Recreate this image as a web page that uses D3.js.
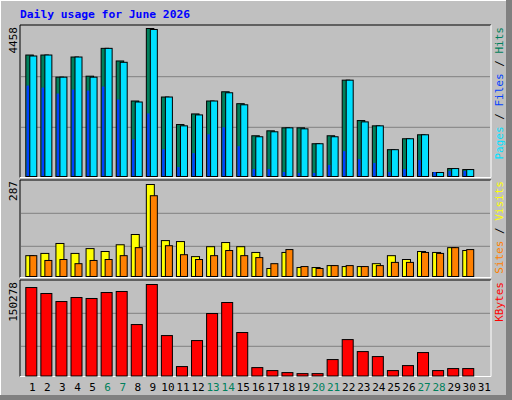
<!DOCTYPE html><html><head><meta charset="utf-8">
<script src="https://cdn.jsdelivr.net/npm/d3@7"></script>
<style>body{margin:0;background:#fff}svg{display:block}</style></head><body>
<svg id="c" width="512" height="400"></svg>
<script>
const days = d3.range(1,32);
const weekend = [6,7,13,14,20,21,27,28];
const hits  = [3659,3659,2992,3599,3022,3860,3480,2274,4458,2394,1565,1885,2274,2552,2193,1227,1376,1466,1466,987,1227,2902,1685,1526,808,1137,1257,120,239,209,0];
const files = [3630,3659,2992,3599,2992,3860,3440,2244,4428,2394,1526,1855,2274,2522,2160,1197,1347,1466,1436,987,1197,2902,1645,1526,808,1137,1257,120,239,209,0];
const pages = [2723,2663,2483,2603,2573,2693,2304,1107,1885,808,269,688,1257,1466,898,209,209,120,90,90,329,748,509,389,120,209,479,120,150,150,0];
const visits= [65,72,103,72,87,78,99,131,287,112,109,62,93,106,93,75,25,75,28,28,34,31,31,40,65,53,78,75,90,81,0];
const sites = [65,50,53,40,50,53,65,90,252,96,68,53,65,81,65,59,40,84,31,25,34,34,31,34,44,44,75,72,90,84,0];
const kbytes= [145300,135500,122300,128900,127300,137100,138800,84500,150278,66400,15500,58200,102600,120700,71400,13800,8900,5600,3900,3900,27000,59800,40100,31900,8900,17100,38500,8900,12200,12200,0];
const maxHits=4458, maxVisits=287, maxKB=150278;

const svg=d3.select("#c");
const F="DejaVu Sans Mono, monospace";
svg.append("rect").attr("width",512).attr("height",400).attr("fill","#c0c0c0");
svg.append("line").attr("x1",0).attr("y1",0.5).attr("x2",512).attr("y2",0.5).attr("stroke","#fff");
svg.append("line").attr("x1",0.5).attr("y1",0).attr("x2",0.5).attr("y2",400).attr("stroke","#fff");
svg.append("rect").attr("x",506).attr("y",0).attr("width",6).attr("height",400).attr("fill","#808080");
svg.append("rect").attr("x",0).attr("y",395).attr("width",512).attr("height",5).attr("fill","#808080");
svg.append("text").attr("x",20).attr("y",18).attr("font-family",F).attr("font-weight","bold").attr("font-size",11.3).attr("fill","#0000ff").text("Daily usage for June 2026");

const x=d3.scaleLinear().domain([1,31]).range([25.3,477.3]);
function panel(top,bottom,gridYs){
  svg.append("line").attr("x1",20).attr("x2",491).attr("y1",top).attr("y2",top).attr("stroke","#000");
  svg.append("line").attr("x1",20).attr("x2",20).attr("y1",top).attr("y2",bottom).attr("stroke","#000");
  svg.append("line").attr("x1",491).attr("x2",491).attr("y1",top).attr("y2",bottom).attr("stroke","#fff");
  svg.append("line").attr("x1",20).attr("x2",491).attr("y1",bottom).attr("y2",bottom).attr("stroke","#fff");
  gridYs.forEach(g=>svg.append("line").attr("x1",21).attr("x2",490).attr("y1",g).attr("y2",g).attr("stroke","#808080"));
}
panel(25,177.5,[76.7,127.3]);
panel(180,277.5,[213.3,246.3]);
panel(280,376.5,[313.3,346.3]);

function bars(data,y,dx,w,color){
  svg.append("g").selectAll("rect").data(data.map((v,i)=>({v,d:i+1})).filter(o=>o.v>0)).join("rect")
   .attr("x",o=>x(o.d)+dx+0.5).attr("width",w).attr("y",o=>y(o.v)+0.5).attr("height",o=>y(0)-y(o.v))
   .attr("fill",color).attr("stroke","#000").attr("stroke-width",1);
}
const y1=d3.scaleLinear().domain([0,maxHits]).range([176,28]);
bars(hits,y1,0,7.5,"#00805c");
bars(files,y1,4,7,"#00e0ff");
svg.append("g").selectAll("rect").data(pages.map((v,i)=>({v,d:i+1})).filter(o=>o.v>0)).join("rect")
   .attr("x",o=>x(o.d)+1.3).attr("width",2.4).attr("y",o=>y1(o.v)).attr("height",o=>y1(0)-y1(o.v))
   .attr("fill","#0040ff");
const y2=d3.scaleLinear().domain([0,maxVisits]).range([276,184]);
bars(visits,y2,0,8,"#ffff00");
bars(sites,y2,4,7,"#ff8000");
const y3=d3.scaleLinear().domain([0,maxKB]).range([375.5,284]);
bars(kbytes,y3,0,11,"#ff0000");

function vlabel(xp,yp,anchor){
  return svg.append("text").attr("transform",`translate(${xp},${yp}) rotate(-90)`).attr("font-family",F).attr("font-size",11).attr("text-anchor",anchor);
}
vlabel(17,27,"end").text(maxHits);
vlabel(17,181,"end").text(maxVisits);
vlabel(17,282,"end").text(maxKB);
let t=vlabel(503,27,"end");
t.append("tspan").attr("fill","#00e0ff").text("Pages");t.append("tspan").text(" / ");
t.append("tspan").attr("fill","#0040ff").text("Files");t.append("tspan").text(" / ");
t.append("tspan").attr("fill","#00805c").text("Hits");
t=vlabel(503,181,"end");
t.append("tspan").attr("fill","#ff8000").text("Sites");t.append("tspan").text(" / ");
t.append("tspan").attr("fill","#ffff00").text("Visits");
vlabel(503,282,"end").attr("fill","#ff0000").text("KBytes");

svg.append("g").selectAll("text").data(days).join("text")
  .attr("x",d=>x(d)+7).attr("y",391).attr("text-anchor","middle").attr("font-family",F).attr("font-size",11)
  .attr("fill",d=>weekend.includes(d)?"#00805c":"#000").text(d=>d);
</script></body></html>
